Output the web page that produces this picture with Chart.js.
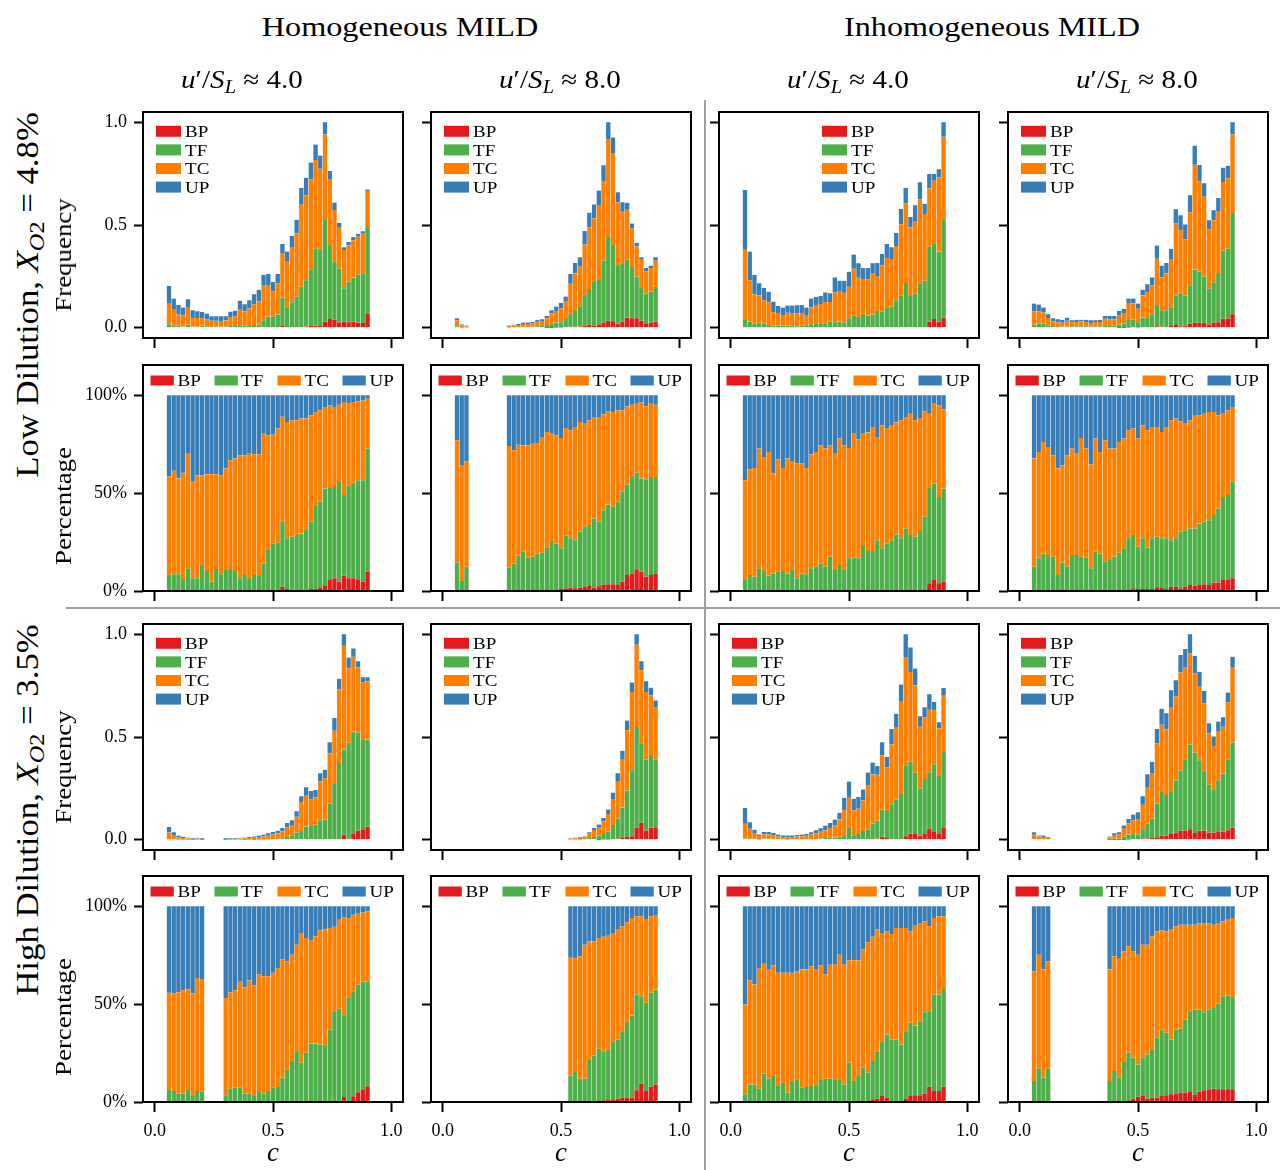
<!DOCTYPE html>
<html>
<head>
<meta charset="utf-8">
<script src="https://cdn.jsdelivr.net/npm/chart.js@4.4.0/dist/chart.umd.min.js"></script>
<style>
  body { margin:0; background:#fff; width:1285px; height:1170px; position:relative; overflow:hidden; font-family:"Liberation Serif", serif; }
  canvas { position:absolute; }
  .lbl { position:absolute; white-space:nowrap; color:#000; line-height:1; }
  .lbl sub { font-size:70%; vertical-align:-0.28em; line-height:0; }
  .sep { position:absolute; background:#a0a0a0; }
</style>
</head>
<body>
<script>
// bins of c (width 0.02)
const binCenters = [0.06,0.08,0.10,0.12,0.14,0.16,0.18,0.20,0.22,0.24,0.26,0.28,0.30,0.32,0.34,0.36,0.38,0.40,0.42,0.44,0.46,0.48,0.50,0.52,0.54,0.56,0.58,0.60,0.62,0.64,0.66,0.68,0.70,0.72,0.74,0.76,0.78,0.80,0.82,0.84,0.86,0.88,0.90];
const seriesLabels = ['BP', 'TF', 'TC', 'UP'];
const seriesColors = ['#e41a1c', '#4daf4a', '#ff7f00', '#377eb8'];
const xTicks = [0, 0.5, 1.0];
const freqTicks = [0, 0.5, 1.0];
const pctTicks = [0, 50, 100];

// Total = normalised frequency (bar top), BP/TF/TC = cumulative % at top of each segment (UP fills to 100)
// Low dilution, homogeneous, u'/S_L ~ 4
const lowHom4Total = [0.204,0.142,0.111,0.098,0.139,0.085,0.080,0.077,0.069,0.056,0.056,0.056,0.056,0.078,0.083,0.131,0.114,0.134,0.163,0.185,0.258,0.261,0.222,0.261,0.408,0.371,0.446,0.526,0.680,0.730,0.804,0.892,0.838,1.000,0.763,0.609,0.511,0.392,0.417,0.441,0.457,0.469,0.673];
const lowHom4BP = [0,0,0,0,0,0,0,0,0,0,0,0,0,0,0,0,0,0,0,0,0,0,0,0,2.2,1.0,0.7,0.7,0.5,0.8,1.0,1.2,1.5,3.0,5.6,6.5,4.8,7.8,6.5,6.5,5.6,4.8,9.9];
const lowHom4TF = [8.2,8.5,8.5,6.1,11.6,6.5,6.5,13.3,10.2,4.8,11.2,8.5,10.7,11.2,10.2,6.5,8.2,6.1,8.2,8.0,14.1,20.9,24.3,24.7,35.7,26.9,27.7,28.6,29.4,31.6,35.4,43.4,45.6,52.4,52.7,53.2,56.1,49.0,54.1,55.3,56.6,56.6,72.8];
const lowHom4TC = [58.7,61.4,57.5,60.4,70.2,55.8,59.2,59.2,59.7,59.7,59.7,59.2,62.6,66.8,67.7,69.4,69.4,70.2,69.8,69.8,80.4,79.6,79.9,83.0,89.0,86.4,87.2,87.2,88.1,88.1,89.8,91.5,92.3,94.0,94.9,94.0,95.2,96.6,96.1,96.6,96.9,97.4,98.3];

// Low dilution, homogeneous, u'/S_L ~ 8
const lowHom8Total = [0.046,0.016,0.011,null,null,null,null,null,null,null,null,0.011,0.015,0.018,0.025,0.025,0.028,0.039,0.041,0.057,0.085,0.103,0.121,0.152,0.261,0.315,0.343,0.471,0.560,0.600,0.668,0.791,1.000,0.926,0.660,0.611,0.608,0.507,0.413,0.343,0.291,0.302,0.343];
const lowHom8BP = [0,0,0,null,null,null,null,null,null,null,null,0,0,0,0,0,0,0,0,0.5,0.5,0.5,1.0,1.4,1.7,1.4,1.7,2.2,2.6,1.7,2.4,3.1,3.4,3.4,3.1,4.8,8.2,9.0,11.1,9.9,7.3,8.2,9.0];
const lowHom8TF = [14.6,5.1,12.4,null,null,null,null,null,null,null,null,11.9,14.1,18.0,20.1,17.0,17.5,19.2,19.6,22.4,25.5,24.3,21.8,28.2,26.9,26.0,30.3,32.8,33.7,37.1,35.4,41.3,44.2,43.0,45.6,50.7,54.4,58.3,60.4,57.5,57.1,58.3,58.3];
const lowHom8TC = [77.0,64.0,66.3,null,null,null,null,null,null,null,null,74.1,71.9,74.8,74.5,74.5,75.3,75.7,78.7,81.3,80.8,79.6,78.2,83.3,82.1,83.8,86.4,85.9,87.2,88.9,88.9,90.3,91.8,91.5,92.3,92.3,94.4,95.2,95.7,96.3,94.4,96.1,95.2];

// Low dilution, inhomogeneous, u'/S_L ~ 4
const lowInh4Total = [0.670,0.371,0.258,0.216,0.193,0.175,0.127,0.106,0.098,0.108,0.108,0.109,0.111,0.098,0.142,0.150,0.155,0.172,0.168,0.245,0.229,0.229,0.273,0.356,0.314,0.291,0.291,0.314,0.315,0.359,0.408,0.392,0.462,0.578,0.681,0.539,0.596,0.708,0.603,0.748,0.748,0.771,1.000];
const lowInh4BP = [0,0,0,0,0,0,0,0,0,0,0,0,0,0,0,0,0,0,0,0,0,0,0,0,0,0,0,0,0,0,0,0,0.5,0.5,0.5,0.5,0.5,0.5,0.5,3.9,5.6,3.9,4.8];
const lowInh4TF = [5.6,8.2,7.3,11.6,10.2,7.8,9.0,9.9,10.2,9.0,10.7,6.5,9.0,8.5,11.6,12.4,14.1,12.4,17.5,10.7,13.3,10.7,16.7,17.0,16.7,23.5,20.4,20.4,26.0,21.8,24.3,26.0,28.9,26.9,32.0,28.6,27.7,30.6,37.9,52.7,54.9,48.1,52.4];
const lowInh4TC = [56.6,62.2,62.9,72.8,68.5,71.1,60.0,67.3,62.9,67.7,66.0,65.1,65.1,62.9,69.7,71.1,74.5,72.8,74.5,70.2,77.9,74.5,73.1,80.8,77.6,80.4,81.0,83.8,78.7,84.7,83.3,84.4,86.1,87.2,88.9,90.6,87.2,88.4,91.8,90.6,95.7,94.9,92.9];

// Low dilution, inhomogeneous, u'/S_L ~ 8
const lowInh8Total = [0.118,0.113,0.098,0.065,0.046,0.041,0.038,0.049,0.036,0.039,0.039,0.039,0.036,0.036,0.039,0.057,0.057,0.057,0.082,0.092,0.142,0.142,0.118,0.185,0.212,0.245,0.400,0.302,0.315,0.384,0.577,0.547,0.503,0.645,0.886,0.792,0.703,0.523,0.572,0.632,0.779,0.788,1.000];
const lowInh8BP = [0,0,0,0,0,0,0,0,0,0,0,0,0,0,0,0,0,0,0.5,0.5,0.5,1.4,1.0,1.0,1.0,1.0,1.9,1.9,1.0,2.2,2.2,1.4,2.2,3.1,2.7,3.1,3.4,3.1,4.3,4.3,5.6,5.6,6.5];
const lowInh8TF = [12.4,16.7,19.2,18.4,17.5,8.2,14.6,12.4,18.4,18.4,17.5,17.0,11.6,20.1,19.2,15.0,15.8,17.5,19.6,21.8,26.9,28.6,22.6,26.9,22.1,26.9,27.7,26.9,26.9,26.0,26.9,30.3,31.1,32.0,32.0,34.5,35.4,36.2,38.8,42.2,48.1,49.0,55.8];
const lowInh8TC = [67.7,71.1,76.2,73.6,69.4,62.6,64.3,69.4,72.8,70.2,78.2,72.8,64.6,77.9,71.1,77.0,72.8,72.8,76.2,77.9,82.1,83.0,77.9,84.7,82.1,83.8,83.8,81.3,83.8,87.2,88.1,86.7,85.5,87.2,89.5,89.8,90.6,91.5,91.5,89.8,91.0,92.3,94.0];

// High dilution, homogeneous, u'/S_L ~ 4
const highHom4Total = [0.062,0.036,0.020,0.015,0.010,0.008,0.010,0.008,null,null,null,null,0.007,0.008,0.008,0.010,0.011,0.013,0.016,0.020,0.025,0.031,0.038,0.044,0.057,0.082,0.095,0.139,0.212,0.255,0.237,0.242,0.324,0.340,0.474,0.593,0.784,1.000,0.887,0.931,0.869,0.791,0.791];
const highHom4BP = [0,0,0,0,0,0,0,0,null,null,null,null,0,0,0,0,0,0,0,0,0,0,0,0,0,0,0,0,0,0,0,0,0,0,0,0,0,2.5,0.5,3.0,5.0,6.5,8.0];
const highHom4TF = [6.5,5.6,4.4,4.4,6.1,3.1,5.6,5.3,null,null,null,null,3.4,6.8,7.3,7.3,4.4,4.4,3.1,5.1,4.4,5.6,7.3,7.7,12.4,16.7,20.9,25.5,20.1,25.2,29.9,29.9,29.4,28.6,37.1,46.4,47.6,43.9,53.2,56.6,60.0,61.4,61.7];
const highHom4TC = [55.8,55.4,56.1,57.1,57.5,55.4,63.4,62.9,null,null,null,null,53.2,56.1,57.1,61.4,58.7,62.1,59.5,65.1,64.3,64.3,66.0,68.5,72.8,71.9,75.3,80.4,86.4,83.8,82.5,84.7,87.8,88.1,88.9,89.5,93.2,94.4,94.0,95.7,96.6,96.9,97.4];

// High dilution, homogeneous, u'/S_L ~ 8
const highHom8Total = [null,null,null,null,null,null,null,null,null,null,null,null,null,null,null,null,null,null,null,null,null,null,null,null,0.008,0.010,0.013,0.016,0.036,0.057,0.074,0.106,0.147,0.229,0.324,0.433,0.580,0.765,1.000,0.869,0.771,0.740,0.678];
const highHom8BP = [null,null,null,null,null,null,null,null,null,null,null,null,null,null,null,null,null,null,null,null,null,null,null,null,0,0,0,0,0,0,0.5,0.9,1.0,1.4,1.7,2.0,2.2,2.2,6.0,9.5,5.6,7.8,9.0];
const highHom8TF = [null,null,null,null,null,null,null,null,null,null,null,null,null,null,null,null,null,null,null,null,null,null,null,null,13.6,15.3,11.9,11.9,21.8,23.8,27.2,26.0,26.9,31.1,32.0,36.2,41.3,44.2,54.9,54.1,50.7,55.8,57.5];
const highHom8TC = [null,null,null,null,null,null,null,null,null,null,null,null,null,null,null,null,null,null,null,null,null,null,null,null,74.1,73.3,74.5,80.4,82.1,82.1,83.8,84.4,85.0,86.4,88.4,89.8,91.8,94.0,94.9,94.9,93.2,94.9,95.2];

// High dilution, inhomogeneous, u'/S_L ~ 4
const highInh4Total = [0.155,0.085,0.049,0.025,0.038,0.038,0.033,0.025,0.021,0.021,0.021,0.023,0.025,0.029,0.036,0.046,0.056,0.069,0.082,0.098,0.131,0.204,0.283,0.199,0.208,0.245,0.327,0.376,0.359,0.474,0.404,0.539,0.613,0.755,1.000,0.936,0.833,0.601,0.645,0.708,0.670,0.572,0.739];
const highInh4BP = [0,0,0,0,0,0,0,0,0,0,0,0,0,0,0,0,0,0,0,0,0,0,0,0,0,0,0,1.0,1.7,3.1,2.2,0.5,0.3,0.3,1.7,3.1,3.4,3.4,4.4,7.8,5.6,5.6,7.8];
const highInh4TF = [3.9,9.0,9.0,6.8,14.6,11.9,13.3,8.5,9.9,4.8,10.2,11.6,7.3,7.7,8.2,8.5,11.6,11.9,11.9,11.2,11.2,9.0,20.1,10.7,13.3,17.5,15.0,20.9,26.0,31.1,34.5,32.0,32.0,29.4,36.2,40.5,39.1,41.3,45.9,46.4,54.9,54.9,57.8];
const highInh4TC = [49.8,62.2,60.0,68.5,70.7,68.0,69.7,66.0,66.0,66.0,66.0,66.8,67.7,67.7,69.4,68.0,69.7,65.1,70.2,70.2,75.3,70.2,72.4,72.4,72.4,77.9,81.6,84.4,88.1,86.4,87.2,85.9,88.9,88.9,88.9,87.2,90.1,91.5,92.3,89.8,94.0,94.9,94.9];

// High dilution, inhomogeneous, u'/S_L ~ 8
const highInh8Total = [0.036,0.021,0.020,0.013,null,null,null,null,null,null,null,null,null,null,null,null,0.016,0.031,0.036,0.069,0.101,0.123,0.134,0.212,0.319,0.379,0.539,0.637,0.616,0.727,0.776,0.899,0.928,1.000,0.895,0.817,0.725,0.567,0.503,0.575,0.596,0.716,0.890];
const highInh8BP = [0,0,0,0,null,null,null,null,null,null,null,null,null,null,null,null,0.5,0.5,0.5,0.5,0.5,1.7,2.7,3.1,1.7,2.2,2.2,3.1,3.4,3.9,4.4,4.8,4.8,5.1,3.6,5.3,6.0,6.1,6.8,6.5,6.5,6.5,6.5];
const highInh8TF = [10.7,17.0,12.4,17.0,null,null,null,null,null,null,null,null,null,null,null,null,10.7,15.8,12.4,20.4,25.2,22.6,19.2,22.6,24.3,26.9,32.8,37.1,35.4,32.0,37.1,37.4,42.2,46.4,47.3,47.3,45.9,47.3,48.1,50.3,54.1,54.4,53.2];
const highInh8TC = [66.8,75.3,67.7,71.9,null,null,null,null,null,null,null,null,null,null,null,null,67.7,74.5,73.6,77.0,79.6,77.0,75.3,80.4,80.4,84.7,87.2,87.8,87.2,88.4,89.8,90.6,90.6,90.6,90.6,91.2,91.5,91.2,90.6,91.5,92.3,93.5,94.0];

// layout of the grid of axes
const colLeft = [143, 431, 719, 1008];
const rowTop = [112, 365, 624, 876];
const W = 260, H = 226;
const PADL = 70, PADT = 22, PADR = 8, PADB = 48;

const configs = [
  { col: 0, row: 0, legendDx: 13, total: lowHom4Total, bp: lowHom4BP, tf: lowHom4TF, tc: lowHom4TC },
  { col: 1, row: 0, legendDx: 13, total: lowHom8Total, bp: lowHom8BP, tf: lowHom8TF, tc: lowHom8TC },
  { col: 2, row: 0, legendDx: 103, total: lowInh4Total, bp: lowInh4BP, tf: lowInh4TF, tc: lowInh4TC },
  { col: 3, row: 0, legendDx: 13, total: lowInh8Total, bp: lowInh8BP, tf: lowInh8TF, tc: lowInh8TC },
  { col: 0, row: 2, legendDx: 13, total: highHom4Total, bp: highHom4BP, tf: highHom4TF, tc: highHom4TC },
  { col: 1, row: 2, legendDx: 13, total: highHom8Total, bp: highHom8BP, tf: highHom8TF, tc: highHom8TC },
  { col: 2, row: 2, legendDx: 13, total: highInh4Total, bp: highInh4BP, tf: highInh4TF, tc: highInh4TC },
  { col: 3, row: 2, legendDx: 13, total: highInh8Total, bp: highInh8BP, tf: highInh8TF, tc: highInh8TC }
];

// box around each axes
const framePlugin = {
  id: 'frame',
  afterDraw(chart) {
    const { ctx, chartArea: a } = chart;
    ctx.save();
    ctx.strokeStyle = '#000';
    ctx.lineWidth = 2;
    ctx.strokeRect(a.left, a.top, a.right - a.left, a.bottom - a.top);
    ctx.restore();
  }
};

// matplotlib-like legend drawn inside the axes
const hPatchX = [7.5, 71.5, 134.5, 199.5];
const hTextX = [34.5, 98, 161.5, 226.5];
const miniLegend = {
  id: 'miniLegend',
  afterDatasetsDraw(chart, args, o) {
    const { ctx, chartArea: a } = chart;
    ctx.save();
    ctx.font = '17px "Liberation Serif"';
    ctx.textBaseline = 'alphabetic';
    seriesLabels.forEach((lab, k) => {
      let px, py, pw, ph, tx;
      if (o.mode === 'v') {
        px = a.left + o.dx; pw = 25; ph = 11; py = a.top + 19.3 + 18.6 * k; tx = px + 29;
      } else {
        px = a.left + hPatchX[k]; pw = 23.3; ph = 10; py = a.top + 15.5; tx = a.left + hTextX[k];
      }
      ctx.fillStyle = seriesColors[k];
      ctx.fillRect(px, py - ph / 2, pw, ph);
      ctx.fillStyle = '#000';
      ctx.save();
      ctx.translate(tx, py + 5.7);
      ctx.scale(1.12, 1);
      ctx.fillText(lab, 0, 0);
      ctx.restore();
    });
    ctx.restore();
  }
};

function buildDatasets(cfg, freq) {
  return seriesLabels.map((lab, k) => {
    const data = [];
    binCenters.forEach((c, i) => {
      if (cfg.total[i] == null) return;
      const b = [0, cfg.bp[i], cfg.tf[i], cfg.tc[i], 100];
      const s = freq ? cfg.total[i] / 100 : 1;
      const lo = b[k] * s, hi = b[k + 1] * s;
      if (hi > lo) data.push({ x: c, y: [lo, hi] });
    });
    return {
      label: lab,
      data: data,
      backgroundColor: seriesColors[k],
      borderColor: 'rgba(255,255,255,0.45)',
      borderWidth: { left: 0.5, right: 0.5, top: 0, bottom: 0 },
      borderSkipped: false,
      grouped: false,
      barPercentage: 1,
      categoryPercentage: 1
    };
  });
}

function makeAxes(cfg, freq) {
  const row = cfg.row + (freq ? 0 : 1);
  const L = colLeft[cfg.col], T = rowTop[row];
  const cv = document.createElement('canvas');
  cv.width = PADL + W + PADR;
  cv.height = PADT + H + PADB;
  cv.style.left = (L - PADL) + 'px';
  cv.style.top = (T - PADT) + 'px';
  document.body.appendChild(cv);

  const showX = row === 3;
  const showY = cfg.col === 0;
  const tickFont = { family: 'Liberation Serif', size: 18 };
  const yTicks = freq ? freqTicks : pctTicks;

  new Chart(cv, {
    type: 'bar',
    data: { datasets: buildDatasets(cfg, freq) },
    options: {
      responsive: false,
      animation: false,
      events: [],
      layout: { padding: { left: 0, right: PADR, top: PADT, bottom: 0 } },
      plugins: {
        legend: { display: false },
        tooltip: { enabled: false },
        miniLegend: { mode: freq ? 'v' : 'h', dx: cfg.legendDx }
      },
      scales: {
        x: {
          type: 'linear',
          min: -0.05, max: 1.05,
          offset: false,
          afterBuildTicks: s => { s.ticks = xTicks.map(v => ({ value: v })); },
          afterFit: s => { s.height = PADB; },
          border: { display: false },
          grid: { offset: false, drawOnChartArea: false, drawTicks: true, tickLength: 10, tickWidth: 2, tickColor: '#000' },
          ticks: {
            color: showX ? '#000' : 'rgba(0,0,0,0)',
            font: tickFont, padding: 8, maxRotation: 0, autoSkip: false,
            callback: v => Number(v).toFixed(1)
          }
        },
        y: {
          min: freq ? -0.05 : 0,
          max: freq ? 1.05 : 115.5,
          afterBuildTicks: s => { s.ticks = yTicks.map(v => ({ value: v })); },
          afterFit: s => { s.width = PADL; },
          border: { display: false },
          grid: { drawOnChartArea: false, drawTicks: true, tickLength: 9, tickWidth: 2, tickColor: '#000' },
          ticks: {
            color: showY ? '#000' : 'rgba(0,0,0,0)',
            font: tickFont, padding: 7, autoSkip: false,
            callback: v => freq ? Number(v).toFixed(1) : v + '%'
          }
        }
      }
    },
    plugins: [miniLegend, framePlugin]
  });
}

configs.forEach(cfg => { makeAxes(cfg, true); makeAxes(cfg, false); });

// text around the grid
function addLabel(html, x, y, size, opts) {
  opts = opts || {};
  const d = document.createElement('div');
  d.className = 'lbl';
  d.innerHTML = html;
  d.style.left = x + 'px';
  d.style.top = y + 'px';
  d.style.fontSize = size + 'px';
  const rot = opts.rot ? ' rotate(-90deg)' : '';
  d.style.transform = 'translate(-50%,-50%)' + rot + ' scaleX(' + (opts.sx || 1) + ')';
  document.body.appendChild(d);
}

addLabel('Homogeneous MILD', 400, 27, 28, { sx: 1.15 });
addLabel('Inhomogeneous MILD', 992, 27, 28, { sx: 1.15 });
const subX = [242, 560, 848, 1137];
const subVals = ['4.0', '8.0', '4.0', '8.0'];
subX.forEach((x, i) => {
  addLabel('<i>u</i>\u2032/<i>S</i><sub><i>L</i></sub> \u2248 ' + subVals[i], x, 80, 26, { sx: 1.12 });
});
addLabel('Low Dilution, <i>X</i><sub><i>O</i>2</sub> = 4.8%', 27, 295, 31, { rot: true, sx: 1.12 });
addLabel('High Dilution, <i>X</i><sub><i>O</i>2</sub> = 3.5%', 27, 810, 31, { rot: true, sx: 1.12 });
[255, 767].forEach(y => addLabel('Frequency', 63, y, 24, { rot: true, sx: 1.12 }));
[506, 1017].forEach(y => addLabel('Percentage', 63, y, 24, { rot: true, sx: 1.12 }));
colLeft.forEach(L => addLabel('<i>c</i>', L + 130, 1152, 27));

// grey separators between the four blocks
const vSep = document.createElement('div');
vSep.className = 'sep';
vSep.style.cssText = 'left:704px;top:100px;width:2px;height:1070px;';
document.body.appendChild(vSep);
const hSep = document.createElement('div');
hSep.className = 'sep';
hSep.style.cssText = 'left:66px;top:607px;width:1214px;height:2px;';
document.body.appendChild(hSep);
</script>
</body>
</html>
